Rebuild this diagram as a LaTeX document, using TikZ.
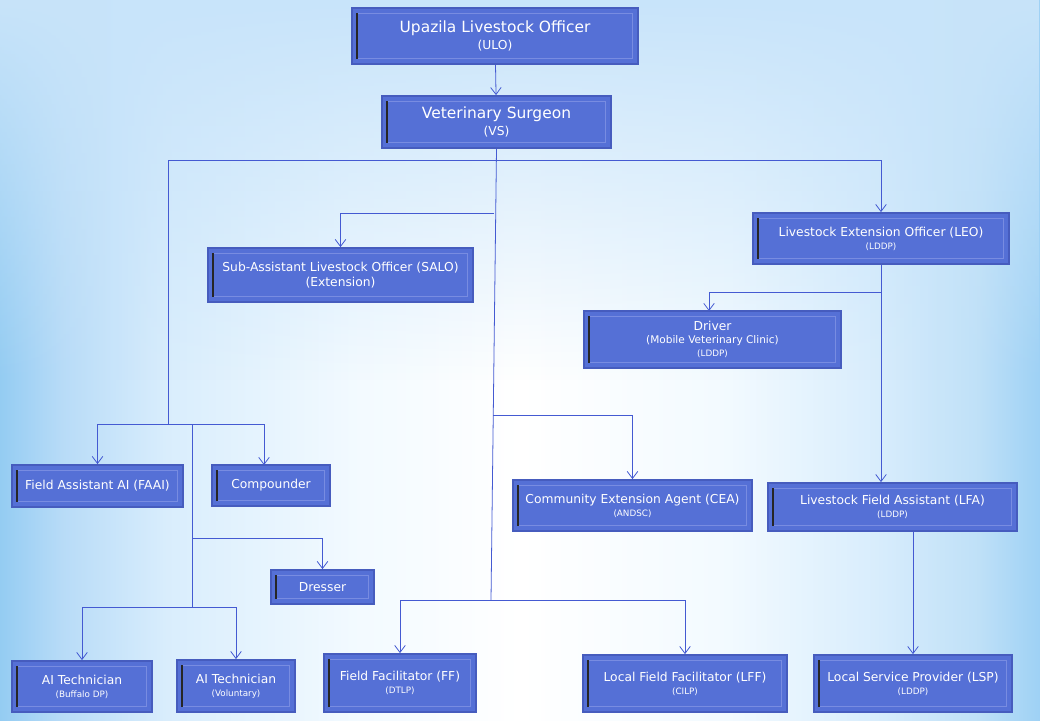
\documentclass[tikz,border=0pt]{standalone}
\usepackage{fontspec}
\setmainfont{DejaVu Sans}
\usetikzlibrary{arrows.meta,fadings}
\definecolor{boxfill}{RGB}{85,112,214}
\definecolor{boxedge}{RGB}{70,92,190}
\definecolor{boxinner}{RGB}{120,140,225}
\definecolor{linkblue}{RGB}{68,90,210}
\definecolor{skytop}{RGB}{200,228,250}
\pgfdeclarehorizontalshading{sky}{100bp}{
  rgb(0bp)=(0.58,0.80,0.95); rgb(25bp)=(0.58,0.80,0.95); rgb(28bp)=(0.72,0.86,0.97);
  rgb(33bp)=(0.85,0.93,0.99); rgb(42bp)=(0.95,0.98,1); rgb(50bp)=(1,1,1);
  rgb(60bp)=(0.95,0.98,1); rgb(67bp)=(0.85,0.93,0.99); rgb(72bp)=(0.75,0.88,0.97);
  rgb(75bp)=(0.62,0.82,0.96); rgb(100bp)=(0.62,0.82,0.96)}
\tikzset{
  post/.style={draw=boxedge, fill=boxfill, line width=1pt, text=white, align=center,
    inner sep=0pt, font=\fontsize{7}{8.5}\selectfont,
    path picture={
      \draw[boxinner, line width=0.8pt] ([shift={(3pt,3pt)}]path picture bounding box.south west)
        rectangle ([shift={(-3pt,-3pt)}]path picture bounding box.north east);
      \draw[black!85, line width=1.2pt] ([shift={(3pt,3pt)}]path picture bounding box.south west)
        -- ([shift={(3pt,-3pt)}]path picture bounding box.north west);
    }},
  size/.style 2 args={minimum width=#1*0.02cm, minimum height=#2*0.02cm},
  link/.style={draw=linkblue, line width=0.45pt},
  arr/.style={link, -{Straight Barb[length=4pt,width=6pt]}},
}
\newcommand{\sub}[1]{\\[-1pt]{\fontsize{5}{6}\selectfont #1}}
\begin{document}
\begin{tikzpicture}[x=0.02cm, y=-0.02cm]
\shade[shading=sky] (0,0) rectangle (1040,720);
\fill[skytop, path fading=south] (0,0) rectangle (1040,380);
\useasboundingbox (0,0) rectangle (1040,720);

\node[post, size={286}{56}, font=\fontsize{8.8}{10}\selectfont] (ulo) at (495,36) {Upazila Livestock Officer\\{\fontsize{7}{9}\selectfont(ULO)}};
\node[post, size={229}{52}, font=\fontsize{8.8}{10}\selectfont] (vs) at (496.5,122) {Veterinary Surgeon\\{\fontsize{7}{9}\selectfont(VS)}};
\node[post, size={265}{54}] (salo) at (340.5,275) {Sub-Assistant Livestock Officer (SALO)\\(Extension)};
\node[post, size={256}{51}] (leo) at (881,238.5) {Livestock Extension Officer (LEO)\sub{(LDDP)}};
\node[post, size={257}{57}] (drv) at (712.5,339.5) {Driver\\[-1pt]{\fontsize{6}{7}\selectfont(Mobile Veterinary Clinic)}\sub{(LDDP)}};
\node[post, size={171}{42}] (faai) at (97.5,486) {Field Assistant AI (FAAI)};
\node[post, size={118}{41}] (comp) at (271,485.5) {Compounder};
\node[post, size={103}{34}] (dres) at (322.5,587) {Dresser};
\node[post, size={239}{51}] (cea) at (632.5,505.5) {Community Extension Agent (CEA)\sub{(ANDSC)}};
\node[post, size={249}{48}] (lfa) at (892.5,507) {Livestock Field Assistant (LFA)\sub{(LDDP)}};
\node[post, size={140}{51}] (aib) at (82,686.5) {AI Technician\sub{(Buffalo DP)}};
\node[post, size={118}{52}] (aiv) at (236,686) {AI Technician\sub{(Voluntary)}};
\node[post, size={152}{58}] (ff) at (400,683) {Field Facilitator (FF)\sub{(DTLP)}};
\node[post, size={204}{57}] (lff) at (685,683.5) {Local Field Facilitator (LFF)\sub{(CILP)}};
\node[post, size={198}{57}] (lsp) at (913,683.5) {Local Service Provider (LSP)\sub{(LDDP)}};

% junctions
\coordinate (tb) at (491,600);
\coordinate (hl) at (168,160);
\coordinate (hr) at (881,160);
\coordinate (js) at (494,213);
\coordinate (jl) at (168,424);
\coordinate (jd) at (192,538);
\coordinate (ja) at (192,607);
\coordinate (jc) at (493,415);
\coordinate (jv) at (881,292);

\draw[arr] (ulo) -- (vs);
\draw[link] (vs.south) -- (tb);
\draw[link] (hl) -- (hr);
\draw[arr] (hr) -- (leo.north);
\draw[arr] (js) -| (salo.north);
\draw[link] (hl) -- (jl);
\draw[arr] (jl -| faai.north) -- (faai.north);
\draw[arr] (faai.north |- jl) -| (264,465);
\draw[link] (192,424) -- (ja);
\draw[arr] (jd) -| (dres.north);
\draw[arr] (ja) -| (aib.north);
\draw[arr] (ja) -| (aiv.north);
\draw[arr] (jc) -| (cea.north);
\draw[arr] (tb) -| (ff.north);
\draw[arr] (tb) -| (lff.north);
\draw[arr] (leo.south) -- (lfa.north -| leo.south);
\draw[arr] (jv) -| (709,311);
\draw[arr] (lsp.north |- lfa.south) -- (lsp.north);
\end{tikzpicture}
\end{document}
